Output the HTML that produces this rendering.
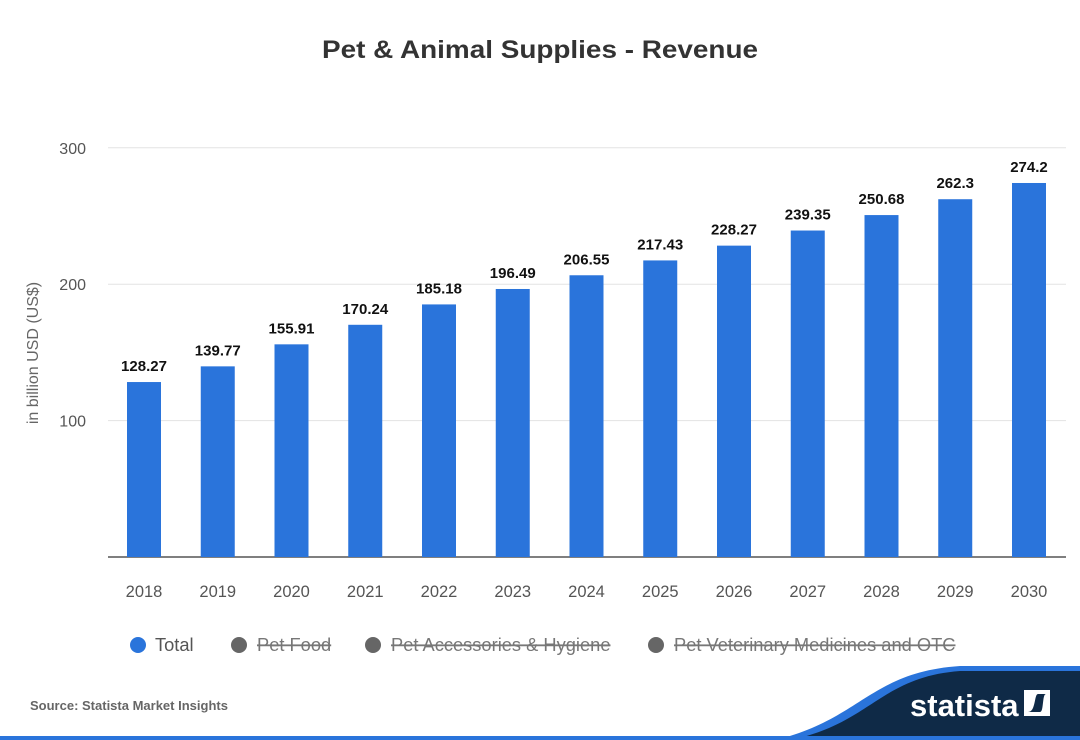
<!DOCTYPE html>
<html><head><meta charset="utf-8"><style>
body{margin:0;background:#fff;font-family:"Liberation Sans",sans-serif;}
#wrap{position:relative;width:1080px;height:740px;overflow:hidden;background:#fff;}
</style></head><body>
<div id="wrap">
<svg id="chart" width="1080" height="740">
<text x="540" y="58" text-anchor="middle" font-size="25" font-weight="bold" fill="#333" textLength="436" lengthAdjust="spacingAndGlyphs">Pet &amp; Animal Supplies - Revenue</text>
<text transform="translate(38,353) rotate(-90)" text-anchor="middle" font-size="16" fill="#666">in billion USD (US$)</text>
<g id="grid"></g><g id="bars"></g><g id="labels"></g>
<g font-size="18.3">
<g><circle cx="138" cy="645" r="8" fill="#2a74db"/><text x="155" y="651" fill="#555">Total</text></g>
<g><circle cx="239" cy="645" r="8" fill="#666"/><text x="257" y="651" fill="#777" text-decoration="line-through">Pet Food</text></g>
<g><circle cx="373" cy="645" r="8" fill="#666"/><text x="391" y="651" fill="#777" text-decoration="line-through">Pet Accessories &amp; Hygiene</text></g>
<g><circle cx="656" cy="645" r="8" fill="#666"/><text x="674" y="651" fill="#777" text-decoration="line-through">Pet Veterinary Medicines and OTC</text></g>
</g>
<text x="30" y="710" font-size="13" font-weight="bold" fill="#666">Source: Statista Market Insights</text>
<path d="M775,740 C860,720 870,672 960,666 L1080,666 L1080,740 Z" fill="#2a74db"/>
<path d="M790,740 C870,724 880,677 960,671 L1080,671 L1080,740 Z" fill="#0f2a47"/>
<rect x="0" y="736" width="1080" height="4" fill="#2a74db"/>
<text x="910" y="716" font-size="31" font-weight="bold" fill="#fff">statista</text>
<g><rect x="1024" y="690" width="26" height="26" fill="#fff"/><path d="M1028,712 L1040,712 C1044,712 1042,694 1046,694 L1046,694 L1038,694 C1034,694 1036,712 1028,712Z" fill="#0f2a47"/></g>
</svg>
</div>
<script>
const years=["2018","2019","2020","2021","2022","2023","2024","2025","2026","2027","2028","2029","2030"];
const revenue=[128.27,139.77,155.91,170.24,185.18,196.49,206.55,217.43,228.27,239.35,250.68,262.3,274.2];
const yTicks=[100,200,300];
const NS="http://www.w3.org/2000/svg";
const y0=557,pxPer=136.4/100,x0=144,step=73.75,bw=34,left=108,right=1066;
const yS=v=>y0-v*pxPer, xS=i=>x0+i*step;
function mk(t,a,p){const e=document.createElementNS(NS,t);for(const k in a)e.setAttribute(k,a[k]);p.appendChild(e);return e;}
const grid=document.getElementById('grid'),bars=document.getElementById('bars'),labels=document.getElementById('labels');
yTicks.forEach(t=>{
 const l=mk('line',{x1:left,x2:right,y1:yS(t),y2:yS(t),stroke:'#e3e3e3'},grid);
 
 
 const tx=mk('text',{x:86,y:yS(t)+6,'text-anchor':'end','font-size':16,fill:'#555'},grid);tx.textContent=t;
 
 
});
const ax=mk('line',{x1:left,x2:right,y1:y0,y2:y0,stroke:'#555','stroke-width':1.5},grid);


revenue.forEach((v,i)=>{
 const r=mk('rect',{x:xS(i)-bw/2,y:yS(v),width:bw,height:y0-yS(v),fill:'#2a74db'},bars);
 
 
 const t=mk('text',{x:xS(i),y:yS(v)-11,'text-anchor':'middle','font-size':15,'font-weight':'bold',fill:'#111'},labels);t.textContent=v;
 
 
 const xt=mk('text',{x:xS(i),y:597,'text-anchor':'middle','font-size':16.5,fill:'#555'},labels);xt.textContent=years[i];
 
 
});
</script>
</body></html>
